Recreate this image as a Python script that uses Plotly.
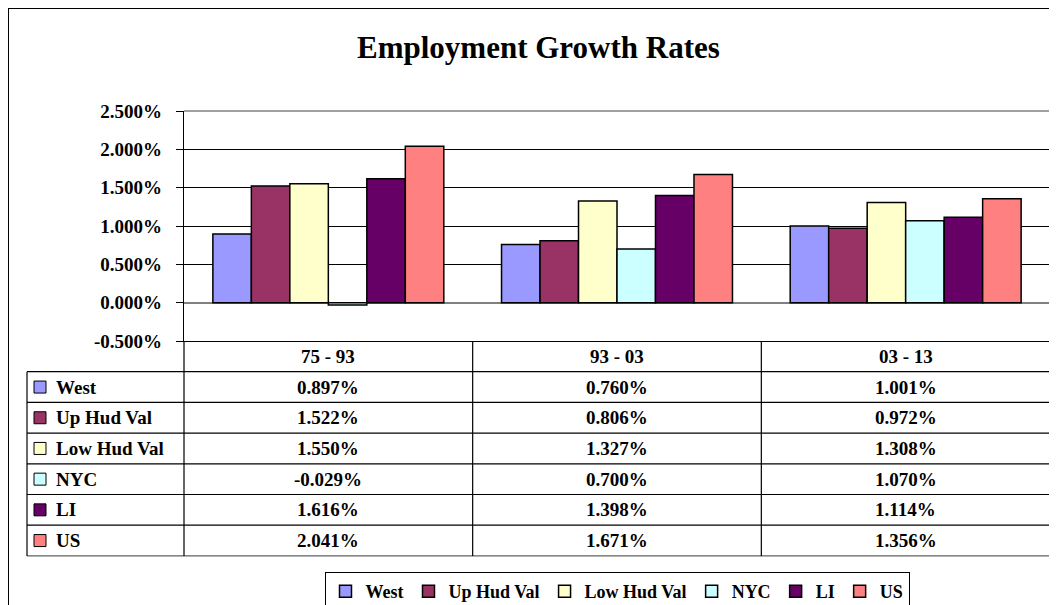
import plotly.graph_objects as go

# ---------------- data ----------------
categories = ["75 - 93", "93 - 03", "03 - 13"]
series_names = ["West", "Up Hud Val", "Low Hud Val", "NYC", "LI", "US"]
west = [0.897, 0.760, 1.001]
up_hud_val = [1.522, 0.806, 0.972]
low_hud_val = [1.550, 1.327, 1.308]
nyc = [-0.029, 0.700, 1.070]
li = [1.616, 1.398, 1.114]
us = [2.041, 1.671, 1.356]
series_values = [west, up_hud_val, low_hud_val, nyc, li, us]
colors = ["#9999FF", "#993366", "#FFFFCC", "#CCFFFF", "#660066", "#FF8080"]
y_ticks = [-0.5, 0.0, 0.5, 1.0, 1.5, 2.0, 2.5]

# ---------------- layout geometry (pixels in the window) ----------------
WIN_W, WIN_H = 1057, 605
OFF = 8                      # page body margin
W, H = WIN_W - OFF, WIN_H - OFF
L, R, T, B = 184, 1050, 111, 341
TABLE_LEFT = 27
ROW_H = 30.7
FONT = "Liberation Serif"


def px(x):
    return (x - L) / (R - L)


def py(y):
    return (B - y) / (B - T)


fig = go.Figure()
for name, vals, col in zip(series_names, series_values, colors):
    fig.add_trace(go.Bar(
        name=name, x=categories, y=vals,
        marker=dict(color=col, line=dict(color="black", width=1.5)),
        hoverinfo="x+y+name",
    ))

shapes = []
annotations = []

# outer chart frame (top and left edges visible)
shapes.append(dict(type="line", xref="paper", yref="paper",
                   x0=px(OFF), x1=px(WIN_W + 2), y0=py(OFF), y1=py(OFF),
                   line=dict(color="black", width=2)))
shapes.append(dict(type="line", xref="paper", yref="paper",
                   x0=px(OFF), x1=px(OFF), y0=py(OFF), y1=py(WIN_H + 2),
                   line=dict(color="black", width=2)))

n_rows = len(series_names)
table_bottom = B + (n_rows + 1) * ROW_H

# plot area border gray (top & right, right edge continues down the table)
shapes.append(dict(type="line", xref="paper", yref="paper",
                   x0=0, x1=1, y0=1, y1=1, line=dict(color="#808080", width=1.5)))
shapes.append(dict(type="line", xref="paper", yref="paper",
                   x0=1, x1=1, y0=1, y1=py(table_bottom),
                   line=dict(color="#808080", width=1.5)))

# horizontal table lines
for i in range(1, n_rows + 2):
    yy = B + i * ROW_H
    shapes.append(dict(type="line", xref="paper", yref="paper",
                       x0=px(TABLE_LEFT), x1=1, y0=py(yy), y1=py(yy),
                       line=dict(color="black" if i <= n_rows else "#606060", width=1.2)))
# vertical table lines
shapes.append(dict(type="line", xref="paper", yref="paper",
                   x0=px(TABLE_LEFT), x1=px(TABLE_LEFT), y0=py(B + ROW_H), y1=py(table_bottom),
                   line=dict(color="black", width=1.2)))
for k in range(len(categories)):
    xx = k / len(categories)
    shapes.append(dict(type="line", xref="paper", yref="paper",
                       x0=xx, x1=xx, y0=py(B), y1=py(table_bottom),
                       line=dict(color="black", width=1.2)))

txt_font = dict(family=FONT, size=19, color="black", weight="bold")

# header row
for k, cat in enumerate(categories):
    annotations.append(dict(x=k, xref="x", y=py(B + ROW_H / 2), yref="paper",
                            text=cat, showarrow=False, font=txt_font,
                            xanchor="center", yanchor="middle"))

# data rows
for r, (name, vals, col) in enumerate(zip(series_names, series_values, colors)):
    yc = B + ROW_H * (r + 1.5)
    shapes.append(dict(type="rect", xref="paper", yref="paper",
                       x0=px(34), x1=px(46), y0=py(yc - 6), y1=py(yc + 6),
                       fillcolor=col, line=dict(color="black", width=1)))
    annotations.append(dict(x=px(54), xref="paper", y=py(yc), yref="paper",
                            text=name, showarrow=False, font=txt_font,
                            xanchor="left", yanchor="middle"))
    for k, v in enumerate(vals):
        annotations.append(dict(x=k, xref="x", y=py(yc), yref="paper",
                                text=f"{v:.3f}%", showarrow=False, font=txt_font,
                                xanchor="center", yanchor="middle"))

# title
annotations.append(dict(x=px(538), xref="paper", y=py(47), yref="paper",
                        text="Employment Growth Rates", showarrow=False,
                        font=dict(family=FONT, size=31, color="black", weight="bold"),
                        xanchor="center", yanchor="middle"))

fig.update_layout(
    width=W, height=H,
    margin=dict(l=L - OFF, r=WIN_W - R, t=T - OFF, b=WIN_H - B, pad=0,
                autoexpand=False),
    paper_bgcolor="white", plot_bgcolor="white",
    barmode="group", bargap=0.2, bargroupgap=0,
    showlegend=True,
    legend=dict(orientation="h", x=0.5, xanchor="center",
                y=py(572), yanchor="top",
                bordercolor="black", borderwidth=1, bgcolor="white",
                font=dict(family=FONT, size=18, color="black", weight="bold"),
                itemwidth=30, tracegroupgap=0),
    xaxis=dict(range=[-0.5, 2.5], showticklabels=False, showgrid=False,
               showline=True, linecolor="black", linewidth=1.2, ticks="",
               zeroline=False, fixedrange=True),
    yaxis=dict(range=[-0.5, 2.5], tickvals=y_ticks,
               ticktext=[f"{v:.3f}%" for v in y_ticks],
               tickfont=dict(family=FONT, size=19, color="black", weight="bold"),
               showgrid=True, gridcolor="black", gridwidth=1,
               zeroline=True, zerolinecolor="#808080", zerolinewidth=2,
               showline=True, linecolor="black", linewidth=1.2,
               ticks="outside", ticklen=7, tickcolor="black",
               ticklabelstandoff=10, fixedrange=True),
    shapes=shapes,
    annotations=annotations,
)

fig.write_html("out.html")
